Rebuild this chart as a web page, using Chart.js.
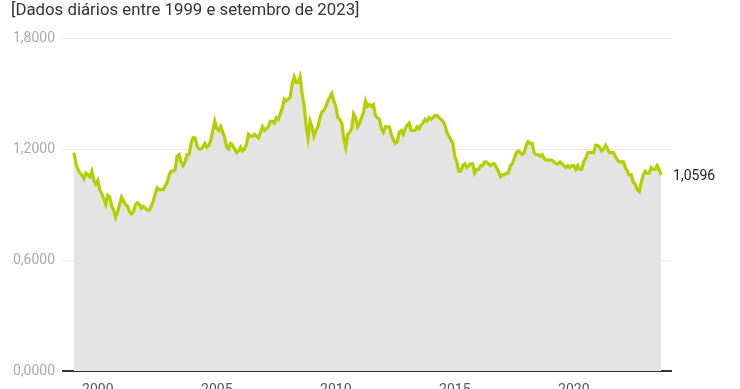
<!DOCTYPE html>
<html>
<head>
<meta charset="utf-8">
<script src="https://cdn.jsdelivr.net/npm/chart.js@4"></script>
<style>
    html, body { margin: 0; padding: 0; background: #fff; }
    #wrap { position: relative; width: 740px; height: 389px; }
    #title { position: absolute; left: 11px; top: -1px; font: 16.8px Roboto, sans-serif; color: #333; white-space: nowrap; }
    canvas { position: absolute; left: 0; top: 0; }
</style>
</head>
<body>
<div id="wrap">
    <canvas id="chartRate" width="740" height="389"></canvas>
    <div id="title">[Dados diários entre 1999 e setembro de 2023]</div>
</div>
<script>
const firstYear = 1999;
// EUR/USD, one value per month, Jan 1999 .. Sep 2023
const eurUsd = [
    1.18, 1.12, 1.09, 1.07, 1.06, 1.04, 1.07, 1.06, 1.05, 1.08, 1.03, 1.01,
    1.03, 0.98, 0.96, 0.93, 0.90, 0.95, 0.94, 0.89, 0.87, 0.83, 0.86, 0.90,
    0.94, 0.92, 0.90, 0.89, 0.86, 0.85, 0.86, 0.90, 0.91, 0.90, 0.88, 0.89,
    0.88, 0.87, 0.87, 0.89, 0.92, 0.96, 0.99, 0.98, 0.98, 0.98, 1.00, 1.02,
    1.06, 1.08, 1.08, 1.09, 1.16, 1.17, 1.13, 1.11, 1.13, 1.17, 1.17, 1.23,
    1.26, 1.26, 1.22, 1.20, 1.20, 1.21, 1.23, 1.21, 1.22, 1.25, 1.30, 1.35,
    1.31, 1.30, 1.32, 1.29, 1.26, 1.21, 1.20, 1.23, 1.22, 1.20, 1.18, 1.19,
    1.21, 1.19, 1.20, 1.23, 1.28, 1.27, 1.27, 1.28, 1.27, 1.26, 1.29, 1.32,
    1.30, 1.31, 1.32, 1.35, 1.35, 1.34, 1.37, 1.36, 1.39, 1.42, 1.47, 1.46,
    1.47, 1.48, 1.55, 1.59, 1.56, 1.56, 1.59, 1.50, 1.44, 1.33, 1.26, 1.35,
    1.32, 1.27, 1.30, 1.32, 1.37, 1.40, 1.41, 1.43, 1.46, 1.48, 1.50, 1.46,
    1.43, 1.37, 1.36, 1.34, 1.26, 1.21, 1.28, 1.29, 1.31, 1.39, 1.37, 1.32,
    1.34, 1.37, 1.40, 1.46, 1.43, 1.44, 1.43, 1.44, 1.38, 1.37, 1.36, 1.31,
    1.29, 1.32, 1.32, 1.32, 1.28, 1.25, 1.23, 1.24, 1.29, 1.30, 1.28, 1.31,
    1.33, 1.34, 1.30, 1.30, 1.30, 1.32, 1.31, 1.33, 1.34, 1.36, 1.35, 1.37,
    1.36, 1.37, 1.38, 1.38, 1.37, 1.36, 1.35, 1.33, 1.29, 1.27, 1.25, 1.23,
    1.16, 1.13, 1.08, 1.08, 1.11, 1.12, 1.10, 1.11, 1.12, 1.12, 1.07, 1.09,
    1.09, 1.11, 1.11, 1.13, 1.13, 1.12, 1.11, 1.12, 1.12, 1.10, 1.08, 1.05,
    1.06, 1.06, 1.07, 1.07, 1.11, 1.12, 1.15, 1.18, 1.19, 1.18, 1.17, 1.18,
    1.22, 1.24, 1.23, 1.23, 1.18, 1.17, 1.17, 1.16, 1.17, 1.15, 1.14, 1.14,
    1.14, 1.14, 1.13, 1.12, 1.12, 1.13, 1.12, 1.11, 1.10, 1.11, 1.10, 1.11,
    1.11, 1.09, 1.11, 1.09, 1.09, 1.13, 1.15, 1.18, 1.18, 1.18, 1.18, 1.22,
    1.22, 1.21, 1.19, 1.20, 1.22, 1.20, 1.18, 1.18, 1.18, 1.16, 1.14, 1.13,
    1.13, 1.13, 1.10, 1.08, 1.06, 1.06, 1.02, 1.01, 0.98, 0.97, 1.02, 1.06,
    1.08, 1.07, 1.07, 1.10, 1.09, 1.09, 1.11, 1.09, 1.0596
];
const xTicks = [2000, 2005, 2010, 2015, 2020];
const yTicks = [0, 0.6, 1.2, 1.8];
const lastLabel = "1,0596";

const points = eurUsd.map((v, i) => ({ x: firstYear + i / 12, y: v }));

const endLabel = {
    id: "endLabel",
    afterDatasetsDraw(chart) {
        const meta = chart.getDatasetMeta(0);
        const last = meta.data[meta.data.length - 1];
        const ctx = chart.ctx;
        ctx.save();
        ctx.font = "14px Roboto, sans-serif";
        ctx.fillStyle = "#222";
        ctx.textBaseline = "middle";
        ctx.fillText(lastLabel, last.x + 12, last.y + 2);
        ctx.restore();
    }
};

new Chart(document.getElementById("chartRate"), {
    type: "line",
    data: {
        datasets: [{
            data: points,
            borderColor: "#b3cf00",
            borderWidth: 3.2,
            backgroundColor: "#e4e4e4",
            fill: "origin",
            pointRadius: 0,
            tension: 0
        }]
    },
    options: {
        responsive: false,
        animation: false,
        layout: { padding: { top: 38, right: 68, left: 0, bottom: 0 } },
        scales: {
            x: {
                type: "linear",
                min: 1998.496,
                max: 2024.126,
                afterFit: s => { s.height = 18; },
                afterBuildTicks: s => { s.ticks = xTicks.map(v => ({ value: v })); },
                grid: { display: false },
                border: { display: false },
                ticks: {
                    padding: 3,
                    color: "#555",
                    font: { family: "Roboto", size: 14 },
                    callback: v => String(v)
                }
            },
            y: {
                min: 0,
                max: 1.8,
                z: 1,
                afterFit: s => { s.width = 62; },
                afterBuildTicks: s => { s.ticks = yTicks.map(v => ({ value: v })); },
                grid: {
                    drawTicks: false,
                    color: c => c.tick.value === 0 ? "#333" : "rgba(0,0,0,0.09)",
                    lineWidth: c => c.tick.value === 0 ? 2 : 1
                },
                border: { display: false },
                ticks: {
                    padding: 7,
                    color: "#aaa",
                    font: { family: "Roboto", size: 14 },
                    callback: v => v.toFixed(4).replace(".", ",")
                }
            }
        },
        plugins: {
            legend: { display: false },
            tooltip: { enabled: false }
        }
    },
    plugins: [endLabel]
});
</script>
</body>
</html>
